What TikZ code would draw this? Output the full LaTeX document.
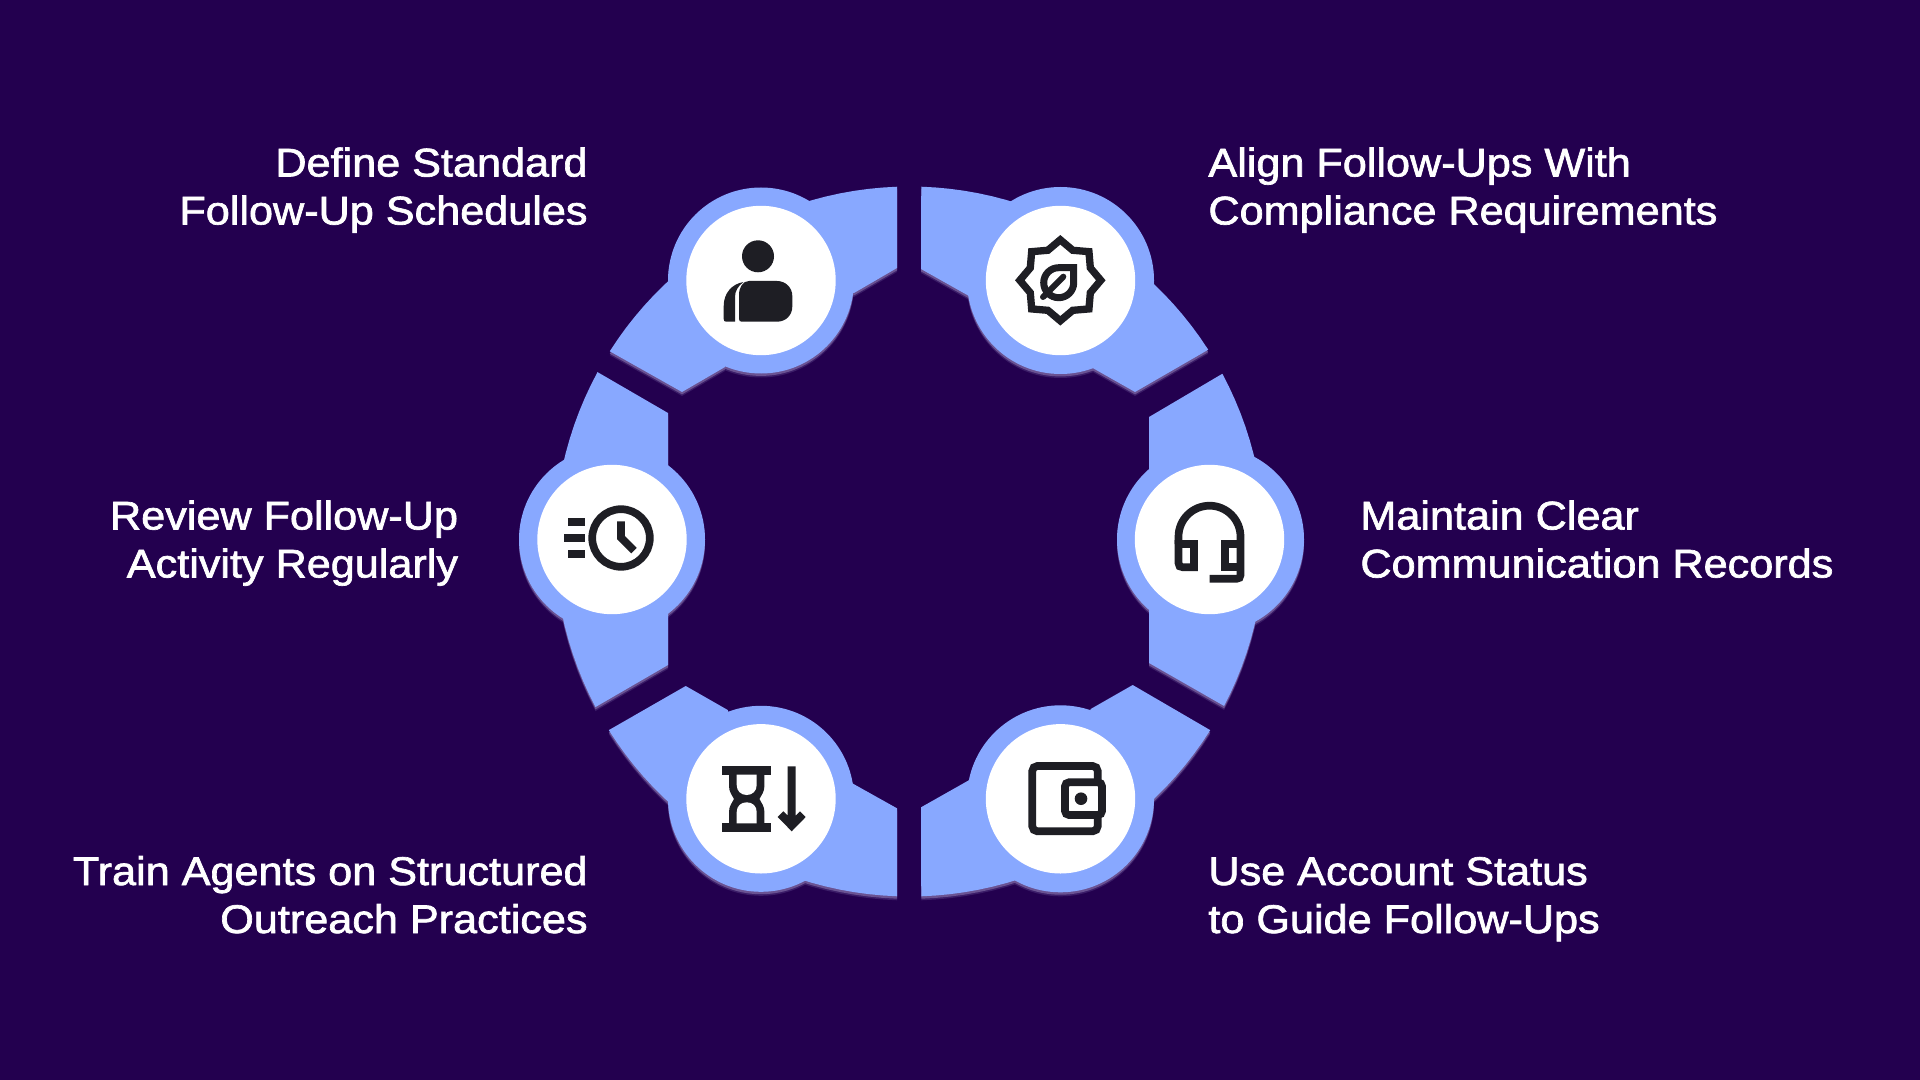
\documentclass[tikz,border=0pt]{standalone}
\usepackage{fontspec}
\setmainfont{Liberation Sans}[FakeBold=1.7,FakeStretch=1.08]
\definecolor{bgc}{HTML}{23004F}
\definecolor{ringc}{HTML}{88A8FF}
\definecolor{icon}{HTML}{1E1E24}
\definecolor{shA}{HTML}{3B1C68}
\definecolor{shB}{HTML}{6A5292}
\newcommand{\segpath}[7]{plot[domain=#1:#2,samples=25] ({909.5+355*cos(\x)},{541.5+355*sin(\x)}) -- #3 -- #4 -- #7 -- #5 -- #6 -- cycle}
\newcommand{\seglayer}[9]{%
 \fill[#9] \segpath{#1}{#2}{#3}{#4}{#5}{#6}{#7};
 \fill[#9] #7 circle[radius=#8];}
\newcommand{\allsegs}[2]{%
 \seglayer{212.4}{268}{(897,268)}{(854,293)}{(725,367)}{(682,392)}{(761,280.5)}{93}{#2}
 \seglayer{271.9}{327.3}{(1135,392)}{(1092.7,368)}{(969,296)}{(921,269)}{(1060.5,280.5)}{93.5}{#2}
 \seglayer{331.8}{387.6}{(1149,663)}{(1149,609)}{(1149,469)}{(1149,417)}{(1210.5,539.5)}{93.5}{#2}
 \seglayer{32.1}{88.1}{(921,807.3)}{(969.3,780)}{(1090.7,709)}{(1132.7,685)}{(1060.5,798.8)}{93.5}{#2}
 \seglayer{92}{147.9}{(685.7,686)}{(727.7,710)}{(852.3,783.3)}{(897,808.3)}{(761,798.8)}{93}{#2}
 \seglayer{152.2}{208.5}{(668,413)}{(668,466)}{(668,613)}{(668,665)}{(612,539.5)}{93}{#2}
}
\tikzset{
 lblR/.style={text=white,inner sep=0pt,align=right,anchor=base east,font=\fontsize{20}{24}\selectfont},
 lblL/.style={text=white,inner sep=0pt,align=left,anchor=base west,font=\fontsize{20}{24}\selectfont},
 disc/.style={fill=white},
 iconfill/.style={fill=icon},
 iconline/.style={draw=icon,line width=3.85pt,line join=miter},
}
\begin{document}
\begin{tikzpicture}[x=0.5pt,y=-0.5pt]
\useasboundingbox (0,0) rectangle (1920,1080);
\fill[bgc] (0,0) rectangle (1920,1080);
% soft edge under the ring
\begin{scope}[yshift=-2pt]
\allsegs{}{shA}
\end{scope}
\begin{scope}[yshift=-1.2pt]
\allsegs{}{shB}
\end{scope}
\allsegs{}{ringc}
% white discs
\fill[disc] (761,280.5) circle[radius=74.7];
\fill[disc] (1060.5,280.5) circle[radius=74.7];
\fill[disc] (1209.5,539.5) circle[radius=74.7];
\fill[disc] (1060.5,798.8) circle[radius=74.7];
\fill[disc] (761,798.8) circle[radius=74.7];
\fill[disc] (612,539.5) circle[radius=74.7];
% person
\fill[iconfill] (758,256.3) circle[radius=16];
\fill[iconfill] (749,281) -- (777,281) .. controls (786,281) and (792.3,288) .. (792.3,296) -- (792.3,306.5) .. controls (792.3,315) and (786,321.7) .. (777,321.7) -- (741.5,321.7) .. controls (740,321.7) and (739,320.7) .. (739,319) -- (739,295) .. controls (739,287) and (743,281) .. (749,281) -- cycle;
\fill[iconfill] (743.5,282) .. controls (738,286) and (735,291) .. (735,297) -- (735,321.7) -- (726,321.7) .. controls (724.5,321.7) and (723.7,320.7) .. (723.7,319) -- (723.7,306) .. controls (723.7,293) and (732,284) .. (743.5,282) -- cycle;
% leaf badge
\draw[iconline,line width=3.65pt]
 ({1060.3+40.5*cos(0)},{280.3+40.5*sin(0)})
 -- ({1060.3+32.5*cos(22.5)},{280.3+32.5*sin(22.5)})
 -- ({1060.3+40.5*cos(45)},{280.3+40.5*sin(45)})
 -- ({1060.3+32.5*cos(67.5)},{280.3+32.5*sin(67.5)})
 -- ({1060.3+40.5*cos(90)},{280.3+40.5*sin(90)})
 -- ({1060.3+32.5*cos(112.5)},{280.3+32.5*sin(112.5)})
 -- ({1060.3+40.5*cos(135)},{280.3+40.5*sin(135)})
 -- ({1060.3+32.5*cos(157.5)},{280.3+32.5*sin(157.5)})
 -- ({1060.3+40.5*cos(180)},{280.3+40.5*sin(180)})
 -- ({1060.3+32.5*cos(202.5)},{280.3+32.5*sin(202.5)})
 -- ({1060.3+40.5*cos(225)},{280.3+40.5*sin(225)})
 -- ({1060.3+32.5*cos(247.5)},{280.3+32.5*sin(247.5)})
 -- ({1060.3+40.5*cos(270)},{280.3+40.5*sin(270)})
 -- ({1060.3+32.5*cos(292.5)},{280.3+32.5*sin(292.5)})
 -- ({1060.3+40.5*cos(315)},{280.3+40.5*sin(315)})
 -- ({1060.3+32.5*cos(337.5)},{280.3+32.5*sin(337.5)})
 -- cycle;
\draw[iconline,line width=3.5pt] (1073.7,267.7) -- (1058.7,267.7) .. controls (1050.4,267.7) and (1043.7,274.4) .. (1043.7,282.7) .. controls (1043.7,291) and (1050.4,297.7) .. (1058.7,297.7) .. controls (1067,297.7) and (1073.7,291) .. (1073.7,282.7) -- cycle;
\draw[iconline,line width=3pt,line cap=round] (1043,297) -- (1063.3,276.7);
% clock
\draw[iconline] (621,538) circle[radius=28.8];
\draw[iconline] (621,521.3) -- (621,537.7) -- (634,550.7);
\fill[iconfill] (568,517.7) rectangle (584.7,525.7);
\fill[iconfill] (564,534) rectangle (584.7,542);
\fill[iconfill] (568,550) rectangle (584.7,558.3);
% headset
\draw[iconline] (1178.5,544) -- (1178.5,536.7) .. controls (1178.5,519.6) and (1192.4,505.7) .. (1209.5,505.7) .. controls (1226.6,505.7) and (1240.5,519.6) .. (1240.5,536.7) -- (1240.5,575) .. controls (1240.5,577.5) and (1239,578.8) .. (1236.5,578.8) -- (1209.7,578.8);
\draw[iconline] (1178.5,540) -- (1178.5,563) .. controls (1178.5,566) and (1180,567.3) .. (1183,567.3) -- (1194,567.3) -- (1194,544) -- (1176.6,544);
\draw[iconline] (1242.4,544) -- (1225,544) -- (1225,567.3) -- (1240.5,567.3);
% hourglass and arrow
\fill[iconfill] (722.3,766.3) rectangle (771.3,774.7);
\fill[iconfill] (722.3,823.3) rectangle (771.3,831.7);
\fill[iconfill] (729,774.7) -- (729,786) .. controls (729,792) and (732,795) .. (734,799) .. controls (732,803) and (729,806) .. (729,812) -- (729,823.3) -- (764.4,823.3) -- (764.4,812) .. controls (764.4,806) and (761.4,803) .. (759.4,799) .. controls (761.4,795) and (764.4,792) .. (764.4,786) -- (764.4,774.7) -- cycle;
\fill[white] (736.7,774.7) -- (736.7,785) .. controls (736.7,791) and (741,795) .. (746.7,795) .. controls (752.4,795) and (756.7,791) .. (756.7,785) -- (756.7,774.7) -- cycle;
\fill[white] (736.7,823.3) -- (736.7,812) .. controls (736.7,806) and (741,802.3) .. (746.7,802.3) .. controls (752.4,802.3) and (756.7,806) .. (756.7,812) -- (756.7,823.3) -- cycle;
\fill[iconfill] (787.7,766.3) -- (795.7,766.3) -- (795.7,815.7) -- (800,811.3) -- (805.7,817) -- (791.7,831.3) -- (777.7,817) -- (783.3,811.3) -- (787.7,815.7) -- cycle;
% wallet
\draw[iconline,rounded corners=2.5pt] (1032.3,766) rectangle (1097.7,831.3);
\draw[iconline,fill=white,rounded corners=2pt] (1065,782.3) rectangle (1102,815);
\fill[iconfill] (1081,798.7) circle[radius=6.3];
% labels
\node[lblR] (t1) at (588,224.5) {Define Standard\\Follow-Up Schedules};
\node[lblL] (t2) at (1208,224.5) {Align Follow-Ups With\\Compliance Requirements};
\node[lblL] (t3) at (1360,577.5) {Maintain Clear\\Communication Records};
\node[lblL] (t4) at (1208,933) {Use Account Status\\to Guide Follow-Ups};
\node[lblR] (t5) at (588,933) {Train Agents on Structured\\Outreach Practices};
\node[lblR] (t6) at (458.5,577.5) {Review Follow-Up\\Activity Regularly};
\end{tikzpicture}
\end{document}
